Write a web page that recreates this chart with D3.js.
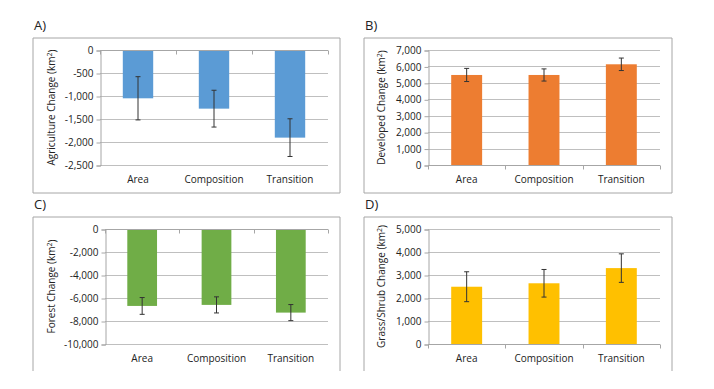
<!DOCTYPE html>
<html>
<head>
  <meta charset="utf-8">
  <script src="https://cdn.jsdelivr.net/npm/d3@7"></script>
  <style>
    body { margin: 0; background: #fff; }
    text { font-family: "Open Sans", sans-serif; fill: #222; }
  </style>
</head>
<body>
<script>
  // data (km^2)
  var categories = ["Area", "Composition", "Transition"];
  var agriculture = [-1050, -1275, -1905];
  var agricultureErr = [470, 400, 410];
  var developed = [5480, 5480, 6130];
  var developedErr = [400, 370, 380];
  var forest = [-6690, -6600, -7270];
  var forestErr = [730, 700, 700];
  var grassShrub = [2490, 2640, 3300];
  var grassShrubErr = [650, 600, 620];

  var agriTicks = [0, -500, -1000, -1500, -2000, -2500];
  var devTicks = [0, 1000, 2000, 3000, 4000, 5000, 6000, 7000];
  var forestTicks = [0, -2000, -4000, -6000, -8000, -10000];
  var grassTicks = [0, 1000, 2000, 3000, 4000, 5000];

  var fmt = d3.formatLocale({decimal: ".", thousands: ",", grouping: [3], currency: ["", ""], minus: "-"}).format(",");

  var svg = d3.select("body").append("svg")
    .attr("width", 714)
    .attr("height", 389);

  var panels = [
    {tag: "A)", title: "Agriculture Change (km", vals: agriculture, err: agricultureErr, ticks: agriTicks,
     color: "#5b9bd5", frame: [33, 38, 340, 193], closed: true, plot: [100, 50, 328, 165], titleX: 52},
    {tag: "B)", title: "Developed Change (km", vals: developed, err: developedErr, ticks: devTicks,
     color: "#ed7d31", frame: [364, 38, 672, 193], closed: true, plot: [428, 50, 660, 165], titleX: 382},
    {tag: "C)", title: "Forest Change (km", vals: forest, err: forestErr, ticks: forestTicks,
     color: "#70ad47", frame: [33, 217, 340, 371], closed: false, plot: [105, 229, 328, 344], titleX: 52},
    {tag: "D)", title: "Grass/Shrub Change (km", vals: grassShrub, err: grassShrubErr, ticks: grassTicks,
     color: "#ffc000", frame: [364, 217, 672, 371], closed: false, plot: [428, 229, 660, 344], titleX: 382}
  ];

  panels.forEach(function(p) {
    var g = svg.append("g");
    var f = p.frame, pl = p.plot;

    // panel letter
    g.append("text")
      .attr("x", f[0] + 1)
      .attr("y", f[1] - 8)
      .style("font-size", "13px")
      .text(p.tag);

    // chart frame (bottom ones are cut off in the original)
    var framePath = p.closed
      ? "M" + f[0] + "," + f[1] + "H" + f[2] + "V" + f[3] + "H" + f[0] + "Z"
      : "M" + f[0] + "," + f[3] + "V" + f[1] + "H" + f[2] + "V" + f[3];
    g.append("path")
      .attr("d", framePath)
      .attr("fill", "none")
      .attr("stroke", "#a6a6a6")
      .attr("stroke-width", 1);

    var ext = d3.extent(p.ticks);
    var y = d3.scaleLinear().domain([ext[0] < 0 ? ext[0] : 0, ext[1]]).range([pl[3], pl[1]]);
    var x = d3.scaleBand().domain(categories).range([pl[0], pl[2]]).paddingInner(0.6).paddingOuter(0.3);

    // gridlines
    g.selectAll(".grid").data(p.ticks).enter().append("line")
      .attr("x1", pl[0]).attr("x2", pl[2])
      .attr("y1", function(d) { return Math.round(y(d)) + 0.5; })
      .attr("y2", function(d) { return Math.round(y(d)) + 0.5; })
      .attr("stroke", "#bfbfbf");

    // y axis
    var yAxis = d3.axisLeft(y).tickValues(p.ticks).tickFormat(fmt).tickSize(4).tickPadding(3);
    var ya = g.append("g").attr("transform", "translate(" + (pl[0] + 0.5) + ",0.5)").call(yAxis);
    ya.select(".domain").attr("stroke", "#a6a6a6");
    ya.selectAll(".tick line").attr("stroke", "#a6a6a6");
    ya.selectAll(".tick text").style("font-size", "10px").style("font-family", "'Open Sans', sans-serif").attr("fill", "#222");

    // bars
    g.selectAll(".bar").data(p.vals).enter().append("rect")
      .attr("x", function(d, i) { return x(categories[i]); })
      .attr("width", x.bandwidth())
      .attr("y", function(d) { return y(Math.max(0, d)); })
      .attr("height", function(d) { return Math.abs(y(d) - y(0)); })
      .attr("fill", p.color);

    // category axis at zero
    var y0 = Math.round(y(0)) + 0.5;
    g.append("line").attr("x1", pl[0]).attr("x2", pl[2]).attr("y1", y0).attr("y2", y0).attr("stroke", "#a6a6a6");
    var step = x.step();
    d3.range(4).forEach(function(k) {
      var xx = Math.round(pl[0] + k * step) + 0.5;
      g.append("line").attr("x1", xx).attr("x2", xx).attr("y1", y0).attr("y2", y0 + 4).attr("stroke", "#a6a6a6");
    });

    // category labels under the plot
    g.selectAll(".cat").data(categories).enter().append("text")
      .attr("x", function(d) { return x(d) + x.bandwidth() / 2; })
      .attr("y", pl[3] + 18)
      .attr("text-anchor", "middle")
      .style("font-size", "10px")
      .text(function(d) { return d; });

    // error bars
    var eb = g.selectAll(".err").data(p.vals).enter().append("g");
    eb.append("line")
      .attr("x1", function(d, i) { return x(categories[i]) + x.bandwidth() / 2; })
      .attr("x2", function(d, i) { return x(categories[i]) + x.bandwidth() / 2; })
      .attr("y1", function(d, i) { return y(d + p.err[i]); })
      .attr("y2", function(d, i) { return y(d - p.err[i]); })
      .attr("stroke", "#333");
    [1, -1].forEach(function(s) {
      eb.append("line")
        .attr("x1", function(d, i) { return x(categories[i]) + x.bandwidth() / 2 - 2.5; })
        .attr("x2", function(d, i) { return x(categories[i]) + x.bandwidth() / 2 + 2.5; })
        .attr("y1", function(d, i) { return y(d + s * p.err[i]); })
        .attr("y2", function(d, i) { return y(d + s * p.err[i]); })
        .attr("stroke", "#333");
    });

    // rotated axis title
    var t = g.append("text")
      .attr("transform", "translate(" + p.titleX + "," + ((pl[1] + pl[3]) / 2) + ") rotate(-90)")
      .attr("text-anchor", "middle")
      .attr("dominant-baseline", "middle")
      .style("font-size", "10px")
      .text(p.title);
    t.append("tspan").attr("dy", "-0.35em").style("font-size", "7px").text("2");
    t.append("tspan").attr("dy", "0.35em").text(")");
  });
</script>
</body>
</html>
